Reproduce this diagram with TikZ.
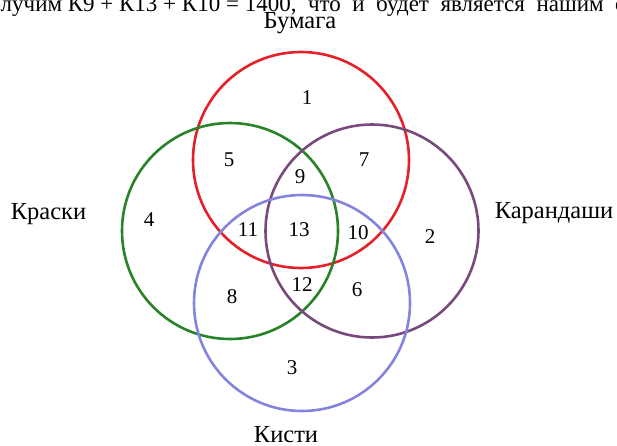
\documentclass[tikz,border=0pt]{standalone}
\usepackage{fontspec}
\setmainfont{Liberation Serif}
\definecolor{vred}{RGB}{228,32,40}
\definecolor{vgreen}{RGB}{40,130,40}
\definecolor{vpurple}{RGB}{120,74,124}
\definecolor{vblue}{RGB}{132,132,222}
\begin{document}
\begin{tikzpicture}[x=1pt,y=-1pt,
  ring/.style={line width=2.6pt},
  lbl/.style={font=\fontsize{24.5}{28}\selectfont, inner sep=0pt, anchor=base},
  num/.style={font=\fontsize{21}{25}\selectfont, inner sep=0pt}]
\useasboundingbox (0,0) rectangle (617,445);
% circles
\draw[ring,vred] (301,160) circle (108);
\draw[ring,vgreen] (230,231) circle (108);
\draw[ring,vpurple] (372,231) circle (106.5);
\draw[ring,vblue] (302,303) circle (108);
% cut-off line of text at top
\node[font=\fontsize{23}{27}\selectfont, inner sep=0pt, anchor=base west] (top) at (-23,11) {получим К9 + К13 + К10 = 1400,{\spaceskip=11.5pt plus 1pt\relax{} что и будет является нашим ответом.}};
% set labels
\node[lbl] (bum) at (300,28.5) {Бумага};
\node[lbl] (kra) at (48.5,219) {Краски};
\node[lbl] (kar) at (554,218) {Карандаши};
\node[lbl] (kis) at (286,442) {Кисти};
% region numbers
\node[num] (n1) at (307,98) {1};
\node[num] (n5) at (229,160) {5};
\node[num] (n7) at (364,160) {7};
\node[num] (n9) at (300,177) {9};
\node[num] (n4) at (149,220) {4};
\node[num] (n11) at (248,230) {11};
\node[num] (n13) at (299,230) {13};
\node[num] (n10) at (358,233) {10};
\node[num] (n2) at (430,237) {2};
\node[num] (n8) at (232,297) {8};
\node[num] (n12) at (302,285) {12};
\node[num] (n6) at (357,290) {6};
\node[num] (n3) at (292,368) {3};
\end{tikzpicture}
\end{document}
